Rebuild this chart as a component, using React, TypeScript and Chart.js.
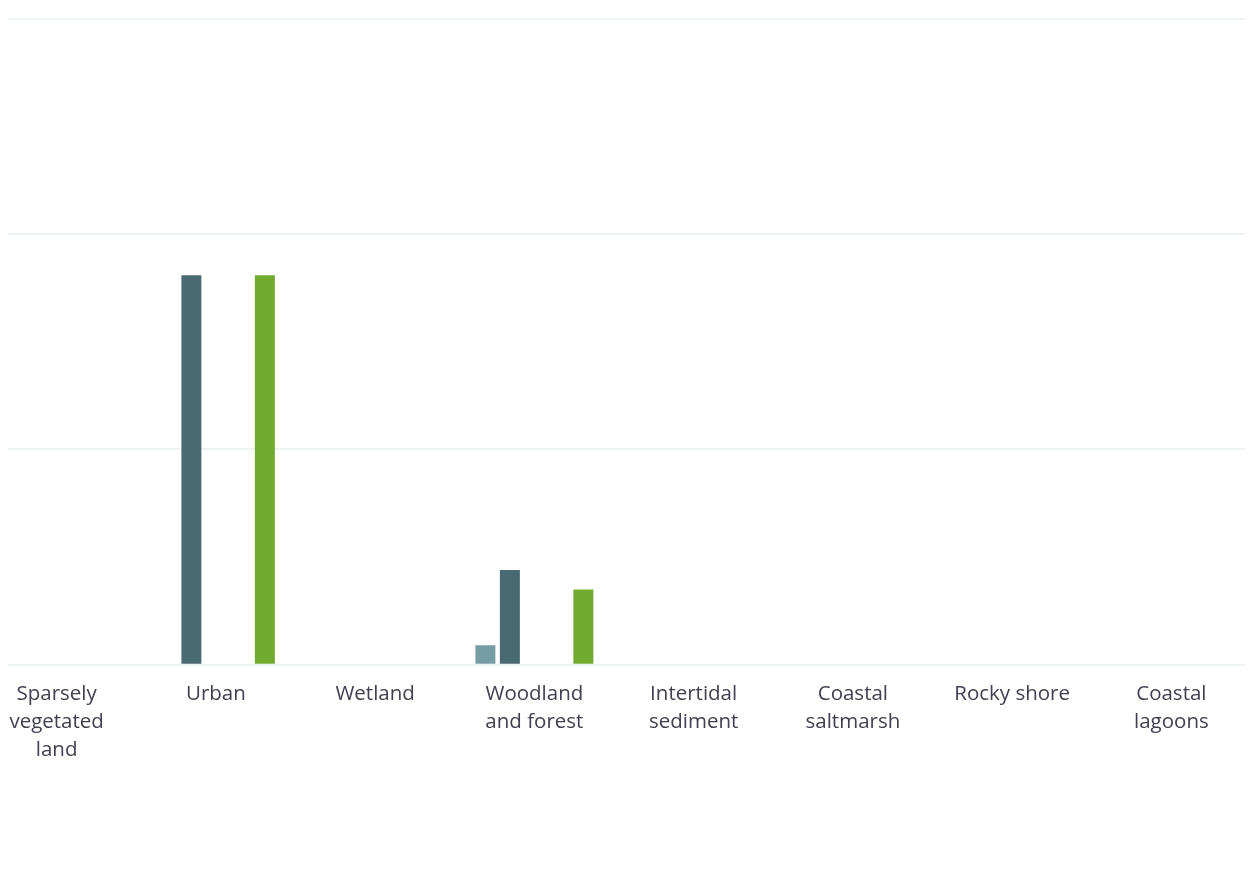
import React, { useEffect, useRef } from "react";
import { Chart, registerables } from "chart.js";

Chart.register(...registerables);

const categories: string[][] = [
  ["Sparsely", "vegetated", "land"],
  ["Urban"],
  ["Wetland"],
  ["Woodland", "and forest"],
  ["Intertidal", "sediment"],
  ["Coastal", "saltmarsh"],
  ["Rocky shore"],
  ["Coastal", "lagoons"],
];

const seriesA: (number | null)[] = [null, null, null, 0.9, null, null, null, null];
const seriesB: (number | null)[] = [null, 18.1, null, 4.4, null, null, null, null];
const seriesC: (number | null)[] = [null, null, null, null, null, null, null, null];
const seriesD: (number | null)[] = [null, null, null, null, null, null, null, null];
const seriesE: (number | null)[] = [null, 18.1, null, 3.5, null, null, null, null];

const yTicks = [0, 10, 20, 30];

export default function App() {
  const ref = useRef<HTMLCanvasElement | null>(null);

  useEffect(() => {
    if (!ref.current) return;
    const chart = new Chart(ref.current, {
      type: "bar",
      data: {
        labels: categories,
        datasets: [
          { label: "A", data: seriesA, backgroundColor: "#769ca6" },
          { label: "B", data: seriesB, backgroundColor: "#4a6a72" },
          { label: "C", data: seriesC, backgroundColor: "#a9c2c8" },
          { label: "D", data: seriesD, backgroundColor: "#b6d58c" },
          { label: "E", data: seriesE, backgroundColor: "#72aa30" },
        ],
      },
      options: {
        animation: false,
        responsive: true,
        maintainAspectRatio: false,
        layout: { padding: { top: 11, left: 0, right: 0, bottom: 0 } },
        datasets: {
          bar: {
            categoryPercentage: 0.769,
            barPercentage: 0.816,
            borderWidth: 0,
          },
        },
        plugins: {
          legend: { display: false },
          tooltip: { enabled: false },
          title: { display: false },
        },
        scales: {
          x: {
            grid: { display: false, drawTicks: false },
            border: { display: false },
            ticks: {
              autoSkip: false,
              maxRotation: 0,
              minRotation: 0,
              padding: 15,
              color: "#404050",
              font: { family: "'Open Sans', sans-serif", size: 20.5, lineHeight: 1.37 },
            },
          },
          y: {
            min: yTicks[0],
            max: yTicks[yTicks.length - 1],
            afterBuildTicks: (axis: any) => {
              axis.ticks = yTicks.map((v) => ({ value: v }));
            },
            grid: { color: "#eef2f2", lineWidth: 2, drawTicks: false },
            border: { display: false },
            ticks: { display: false },
          },
        },
      },
    });
    return () => chart.destroy();
  }, []);

  return (
    <div
      style={{
        position: "relative",
        width: 1238,
        height: 860,
        overflow: "hidden",
        marginLeft: -1,
        background: "#ffffff",
      }}
    >
      <div style={{ position: "absolute", left: -29.6, top: 0, width: 1274, height: 771 }}>
        <canvas ref={ref} />
      </div>
    </div>
  );
}
